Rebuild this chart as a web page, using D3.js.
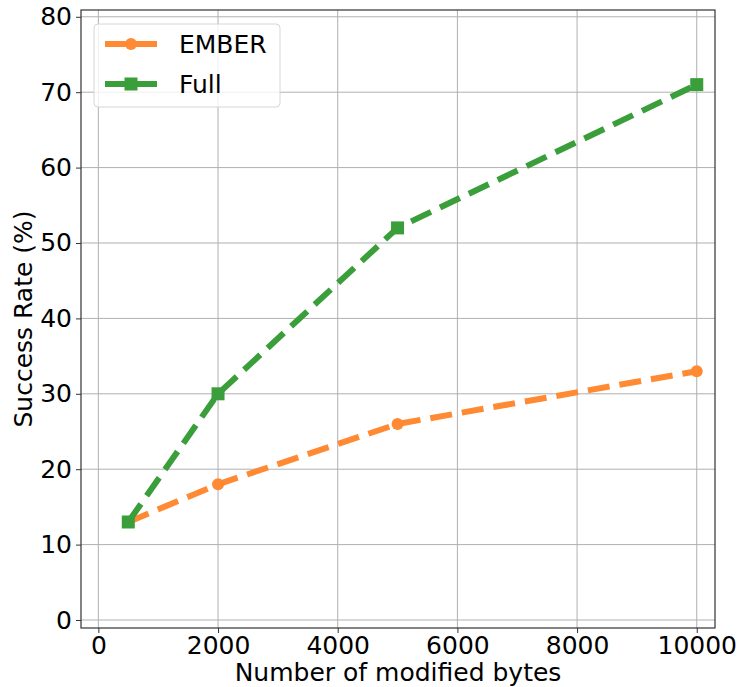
<!DOCTYPE html>
<html>
<head>
<meta charset="utf-8">
<script src="https://cdn.jsdelivr.net/npm/d3@7"></script>
<style>
  body { margin: 0; background: #fff; }
  text { font-family: "DejaVu Sans", sans-serif; fill: #000; }
</style>
</head>
<body>
<svg width="740" height="687"></svg>
<script>
var bytes = [500, 2000, 5000, 10000];
var ember = [13, 18, 26, 33];
var full = [13, 30, 52, 71];
var xTicks = [0, 2000, 4000, 6000, 8000, 10000];
var yTicks = [0, 10, 20, 30, 40, 50, 60, 70, 80];

var svg = d3.select("svg"),
    margin = {top: 10, right: 25, bottom: 59, left: 81},
    width = +svg.attr("width") - margin.left - margin.right,
    height = +svg.attr("height") - margin.top - margin.bottom,
    g = svg.append("g").attr("transform", "translate(" + margin.left + "," + margin.top + ")");

var x = d3.scaleLinear().domain([-290, 10305]).range([0, width]);
var y = d3.scaleLinear().domain([-1.06, 80.9]).range([height, 0]);

// grid
g.append("g").selectAll("line").data(xTicks).enter().append("line")
    .attr("x1", d => x(d)).attr("x2", d => x(d))
    .attr("y1", 0).attr("y2", height)
    .attr("stroke", "#b0b0b0").attr("stroke-width", 1);
g.append("g").selectAll("line").data(yTicks).enter().append("line")
    .attr("y1", d => y(d)).attr("y2", d => y(d))
    .attr("x1", 0).attr("x2", width)
    .attr("stroke", "#b0b0b0").attr("stroke-width", 1);

var xAxis = g.append("g")
    .attr("transform", "translate(0," + height + ")")
    .call(d3.axisBottom(x).tickValues(xTicks).tickSize(5).tickPadding(3).tickFormat(d3.format("d")));
var yAxis = g.append("g")
    .call(d3.axisLeft(y).tickValues(yTicks).tickSize(5).tickPadding(4));
[xAxis, yAxis].forEach(function(a) {
  a.select(".domain").remove();
  a.selectAll("text").style("font-family", "DejaVu Sans").style("font-size", "25px");
  a.selectAll("line").attr("stroke", "#333");
});

g.append("rect").attr("width", width).attr("height", height)
    .attr("fill", "none").attr("stroke", "#333").attr("stroke-width", 1.2);

var line = d3.line()
    .x(function(d) { return x(d[0]); })
    .y(function(d) { return y(d[1]); });

var series = [
  {name: "EMBER", values: ember, color: "#ff8a33", marker: "circle"},
  {name: "Full", values: full, color: "#3a9e3a", marker: "square"}
];

series.forEach(function(s) {
  var pts = bytes.map(function(b, i) { return [b, s.values[i]]; });
  g.append("path").datum(pts)
    .attr("d", line)
    .attr("fill", "none")
    .attr("stroke", s.color)
    .attr("stroke-width", 6)
    .attr("stroke-dasharray", "22,10");
  pts.forEach(function(p) {
    if (s.marker === "circle") {
      g.append("circle").attr("cx", x(p[0])).attr("cy", y(p[1])).attr("r", 6).attr("fill", s.color);
    } else {
      g.append("rect").attr("x", x(p[0]) - 6.5).attr("y", y(p[1]) - 6.5)
        .attr("width", 13).attr("height", 13).attr("fill", s.color);
    }
  });
});

// legend
var lg = svg.append("g").attr("transform", "translate(94,24)");
lg.append("rect").attr("width", 186).attr("height", 83).attr("rx", 4)
  .attr("fill", "#fff").attr("fill-opacity", 0.8).attr("stroke", "#d6d6d6");
series.forEach(function(s, i) {
  var yy = 20 + i * 40;
  lg.append("line").attr("x1", 11).attr("x2", 63).attr("y1", yy).attr("y2", yy)
    .attr("stroke", s.color).attr("stroke-width", 6);
  if (s.marker === "circle") {
    lg.append("circle").attr("cx", 37).attr("cy", yy).attr("r", 6).attr("fill", s.color);
  } else {
    lg.append("rect").attr("x", 30.5).attr("y", yy - 6.5).attr("width", 13).attr("height", 13).attr("fill", s.color);
  }
  lg.append("text").attr("x", 85).attr("y", yy + 9).style("font-size", "25px").text(s.name);
});

svg.append("text").attr("x", margin.left + width / 2).attr("y", 681)
  .attr("text-anchor", "middle").style("font-size", "25px").text("Number of modified bytes");
svg.append("text").attr("transform", "translate(32," + (margin.top + height / 2) + ") rotate(-90)")
  .attr("text-anchor", "middle").style("font-size", "25px").text("Success Rate (%)");
</script>
</body>
</html>
